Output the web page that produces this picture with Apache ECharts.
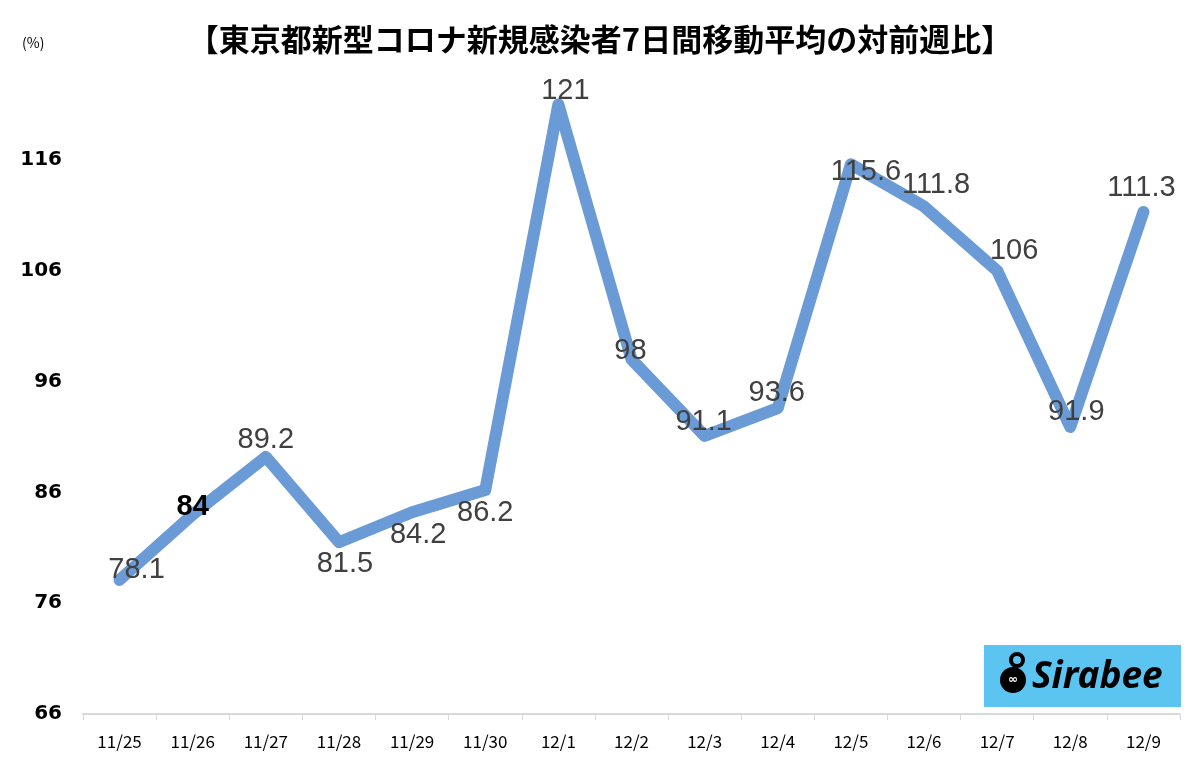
<!DOCTYPE html>
<html><head><meta charset="utf-8">
<script src="https://cdn.jsdelivr.net/npm/echarts@6/dist/echarts.min.js"></script>
<style>html,body{margin:0;padding:0;background:#fff}#c{width:1200px;height:759px}</style>
</head><body><div id="c"></div>
<script>
const categories = ['11/25','11/26','11/27','11/28','11/29','11/30','12/1','12/2','12/3','12/4','12/5','12/6','12/7','12/8','12/9'];
const values = [78.1, 84, 89.2, 81.5, 84.2, 86.2, 121, 98, 91.1, 93.6, 115.6, 111.8, 106, 91.9, 111.3];
const titleText = '【東京都新型コロナ新規感染者7日間移動平均の対前週比】';
const unitText = '(%)';
// label offsets [dx, dy] relative to point (style only)
const labelOffsets = [[17,-10],[0,-8],[0,-17],[6,22],[6,23],[0,23],[7,-13],[-1,-8],[-1,-14],[-1,-15],[15,8],[12,-21],[17,-20],[6,-15],[-2,-24]];

const chart = echarts.init(document.getElementById('c'));
chart.setOption({
  backgroundColor: '#fff',
  animation: false,
  title: {
    text: titleText, left: 'center', top: 19,
    textStyle: {fontFamily: 'Noto Sans CJK JP', fontSize: 31, fontWeight: 'bold', color: '#000'}
  },
  graphic: [
    {type: 'text', left: 22, top: 36, style: {text: unitText, font: '14px "Noto Sans CJK JP"', fill: '#000'}},
    {type: 'rect', shape: {x: 984, y: 645, width: 197, height: 62}, style: {fill: '#5bc4f1'}},
    {type: 'circle', shape: {cx: 1013, cy: 680, r: 13}, style: {fill: '#000'}},
    {type: 'circle', shape: {cx: 1017, cy: 660, r: 6}, style: {fill: 'none', stroke: '#000', lineWidth: 4}},
    {type: 'text', x: 1008, y: 680, style: {text: '∞', font: 'bold 12px "DejaVu Sans"', fill: '#fff', verticalAlign: 'middle'}},
    {type: 'text', x: 1032, y: 677, style: {text: 'Sirabee', font: 'italic bold 37px "Noto Sans", sans-serif', fill: '#000', verticalAlign: 'middle'}}
  ],
  grid: {left: 83, right: 20, top: 49, bottom: 45},
  xAxis: {
    type: 'category', data: categories, boundaryGap: true,
    axisLine: {lineStyle: {color: '#d9d9d9', width: 2}},
    axisTick: {show: true, length: 6, lineStyle: {color: '#d9d9d9'}},
    axisLabel: {color: '#000', fontSize: 17, fontFamily: 'Noto Sans CJK JP', margin: 19}
  },
  yAxis: {
    type: 'value', min: 66, max: 126, interval: 10,
    splitLine: {show: false}, axisLine: {show: false}, axisTick: {show: false},
    axisLabel: {color: '#000', fontSize: 20, fontFamily: 'DejaVu Sans', fontWeight: 'bold', margin: 21, showMaxLabel: false,
      formatter: v => v >= 126 ? '' : String(v)}
  },
  series: [{
    type: 'line', data: values.map((v, i) => ({
      value: v,
      label: {offset: labelOffsets[i], color: i === 1 ? '#000' : '#404040', fontWeight: i === 1 ? 'bold' : 'normal'}
    })),
    symbol: 'circle', symbolSize: 2, showSymbol: true, itemStyle: {color: '#6a9bd6'},
    lineStyle: {color: '#6a9bd6', width: 12, join: 'round', cap: 'round'},
    label: {show: true, position: 'inside', fontSize: 29, fontFamily: 'Liberation Sans', color: '#3a3a3a'}
  }]
});
</script></body></html>
